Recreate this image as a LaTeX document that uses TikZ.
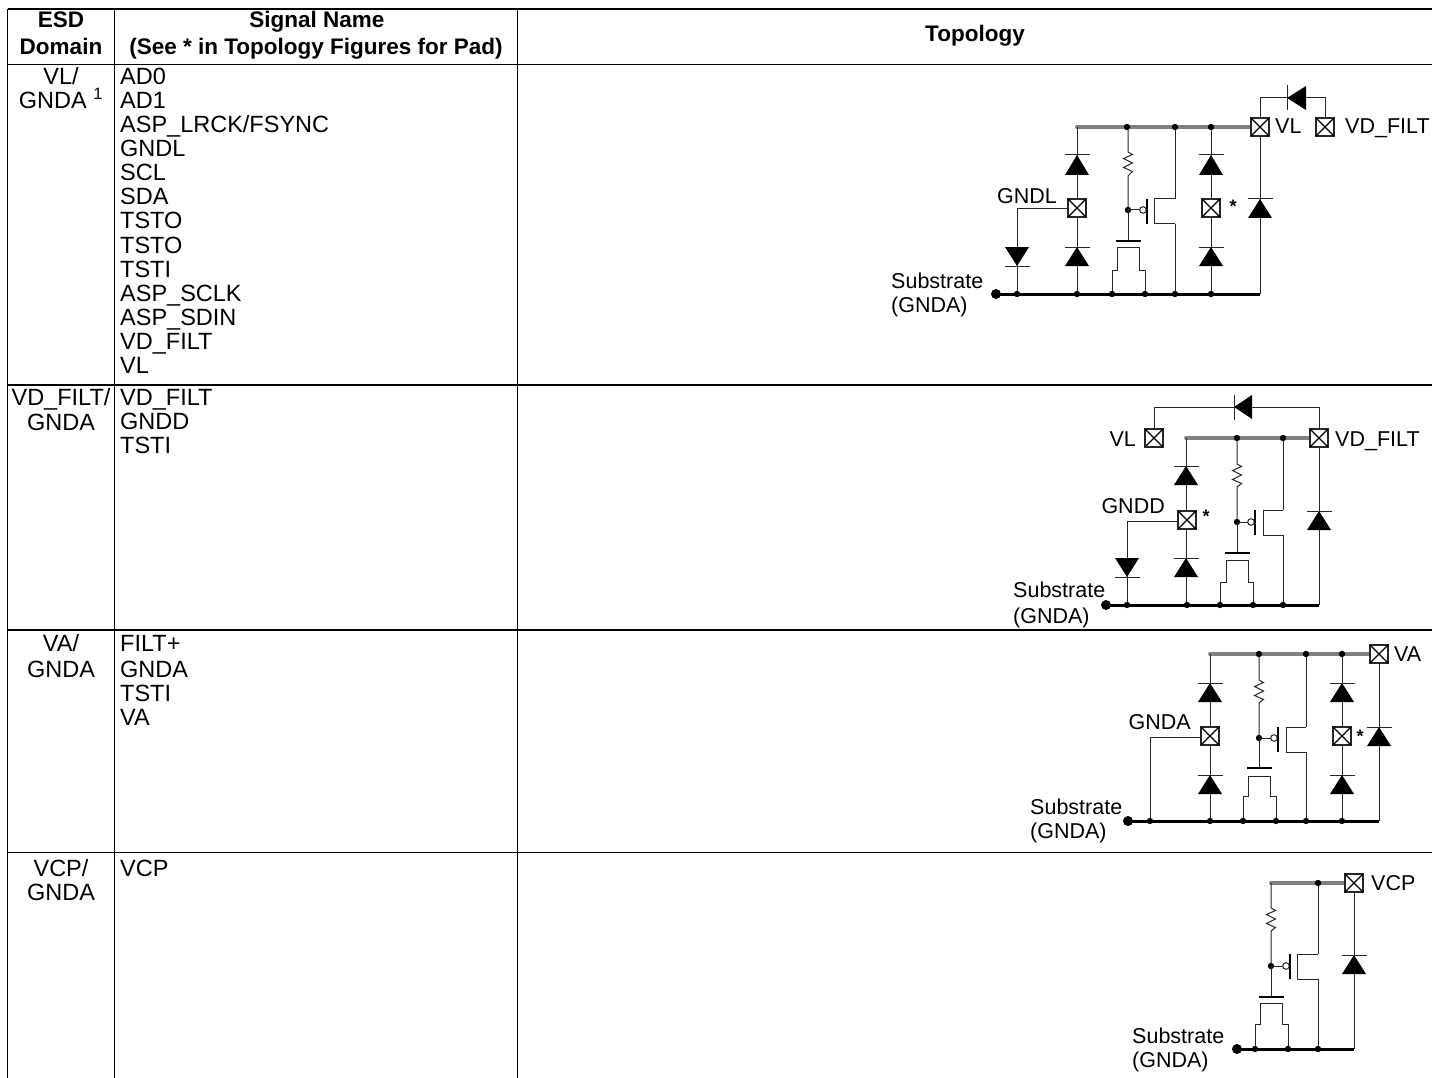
\documentclass[tikz,border=0pt]{standalone}
\usepackage{fontspec}
\setmainfont{Liberation Sans}
\tikzset{
  wire/.style={line width=1pt,black!85},
  railg/.style={line width=3.8pt,black!50,line cap=round},
  busb/.style={line width=3pt,black},
  rule/.style={line width=1.6pt,black},
  rulethick/.style={line width=2.2pt,black},
  padbox/.style={line width=2pt,draw=black!85,fill=white},
  bodytext/.style={inner sep=0pt,anchor=base west,font=\fontsize{23.5}{24}\selectfont},
  midtext/.style={inner sep=0pt,anchor=base,font=\fontsize{23.5}{24}\selectfont},
  headtext/.style={inner sep=0pt,anchor=base,font=\fontsize{22.5}{24}\selectfont\bfseries},
  lab/.style={inner sep=0pt,anchor=base west,font=\fontsize{21.5}{24}\selectfont},
  labr/.style={inner sep=0pt,anchor=base east,font=\fontsize{21.5}{24}\selectfont},
  star/.style={inner sep=0pt,anchor=center,font=\fontsize{18}{20}\selectfont\bfseries}
}
% diode pointing up: x, bar y, base y
\newcommand{\dioUp}[3]{%
  \fill[black] (#1,#2) -- (#1+12,#3) -- (#1-12,#3) -- cycle;
  \draw[wire] (#1-12.5,#2) -- (#1+12.5,#2);}
% diode pointing down: x, base y, bar y
\newcommand{\dioDown}[3]{%
  \fill[black] (#1,#3) -- (#1+12,#2) -- (#1-12,#2) -- cycle;
  \draw[wire] (#1-12.5,#3) -- (#1+12.5,#3);}
% diode pointing left: bar x, base x, y
\newcommand{\dioLeft}[3]{%
  \fill[black] (#1,#3) -- (#2,#3-12) -- (#2,#3+12) -- cycle;
  \draw[wire] (#1,#3-12.5) -- (#1,#3+12.5);}
\newcommand{\pad}[2]{%
  \draw[padbox] (#1-9,#2-9) rectangle (#1+9,#2+9);
  \draw[line width=1.2pt,black] (#1-9,#2-9) -- (#1+9,#2+9) (#1-9,#2+9) -- (#1+9,#2-9);}
\newcommand{\jdot}[2]{\fill[black] (#1,#2) circle (3.2);}
\newcommand{\bigdot}[2]{\fill[black] (#1,#2) circle (5);}
% resistor branch: x, rail y, zig top, zig bottom, dot y
\newcommand{\resis}[5]{%
  \draw[wire] (#1,#2) -- (#1,#3) -- (#1+4.5,#3+2.5) -- (#1-4.5,#3+6.5) -- (#1+4.5,#3+11) -- (#1-4.5,#3+15.5) -- (#1+4.5,#3+19.5) -- (#1,#4) -- (#1,#5);
  \jdot{#1}{#5}}
% pmos: wire x, gate y, bar x, bar y1, bar y2, chan x, ch y1, ch y2, drain x, rail y, bus y
\newcommand{\pmosT}[9]{%
  \draw[wire] (#1,#2) -- (#3-7,#2);
  \draw[wire,fill=white] (#3-4,#2) circle (3.3);
  \draw[line width=1.9pt,black] (#3,#4) -- (#3,#5);
  \draw[wire] (#7,#4) -- (#6,#4) -- (#6,#5) -- (#7,#5);
  \draw[wire] (#7,#8) -- (#7,#4) (#7,#5) -- (#7,#9);}
% nmos: x, dot y, bar y, chan y, step y, out L, out R, bus y
\newcommand{\nmosT}[8]{%
  \draw[wire] (#1,#2) -- (#1,#3);
  \draw[line width=1.9pt,black] (#1-12.5,#3) -- (#1+12.5,#3);
  \draw[wire] (#6,#8) -- (#6,#5) -- (#1-11,#5) -- (#1-11,#4) -- (#1+11,#4) -- (#1+11,#5) -- (#7,#5) -- (#7,#8);}
\begin{document}
\begin{tikzpicture}[x=1pt,y=-1pt]
\useasboundingbox (0,0) rectangle (1432,1078);
\clip (0,0) rectangle (1432,1078);
\fill[white] (0,0) rectangle (1432,1078);
% table
\draw[rulethick] (7.5,9) -- (1432,9);
\draw[rule] (7.5,9) -- (7.5,1078) (114.5,9) -- (114.5,1078) (517.5,9) -- (517.5,1078);
\draw[rule] (7.5,64.5) -- (1432,64.5) (7.5,385) -- (1432,385) (7.5,630) -- (1432,630) (7.5,852.5) -- (1432,852.5);
% headers
\node[headtext] (h1) at (61,28) {ESD};
\node[headtext] (h2) at (61,55) {Domain};
\node[headtext] (h3) at (317,27.5) {Signal Name};
\node[headtext] (h4) at (316,55) {(See * in Topology Figures for Pad)};
\node[headtext] (h5) at (975,42) {Topology};
% domain column
\node[midtext] (d1a) at (61,85) {VL/};
\node[midtext] (d1b) at (61,109) {GNDA \textsuperscript{1}};
\node[midtext] (d2a) at (61,405) {VD\_FILT/};
\node[midtext] (d2b) at (61,430) {GNDA};
\node[midtext] (d3a) at (61,651) {VA/};
\node[midtext] (d3b) at (61,677) {GNDA};
\node[midtext] (d4a) at (61,876) {VCP/};
\node[midtext] (d4b) at (61,900) {GNDA};
% signals row 1
\node[bodytext] (s01) at (120,85) {AD0};
\node[bodytext] (s02) at (120,109) {AD1};
\node[bodytext] (s03) at (120,133) {ASP\_LRCK/FSYNC};
\node[bodytext] (s04) at (120,157) {GNDL};
\node[bodytext] (s05) at (120,181) {SCL};
\node[bodytext] (s06) at (120,205) {SDA};
\node[bodytext] (s07) at (120,229) {TSTO};
\node[bodytext] (s08) at (120,253) {TSTO};
\node[bodytext] (s09) at (120,277) {TSTI};
\node[bodytext] (s10) at (120,301) {ASP\_SCLK};
\node[bodytext] (s11) at (120,325) {ASP\_SDIN};
\node[bodytext] (s12) at (120,349) {VD\_FILT};
\node[bodytext] (s13) at (120,373) {VL};
% row 2
\node[bodytext] (s21) at (120,405) {VD\_FILT};
\node[bodytext] (s22) at (120,429) {GNDD};
\node[bodytext] (s23) at (120,453) {TSTI};
% row 3
\node[bodytext] (s31) at (120,651) {FILT+};
\node[bodytext] (s32) at (120,677) {GNDA};
\node[bodytext] (s33) at (120,701) {TSTI};
\node[bodytext] (s34) at (120,725) {VA};
% row 4
\node[bodytext] (s41) at (120,876) {VCP};

% ---------- circuit 1
\draw[railg] (1077,127) -- (1250,127);
\draw[busb] (996,294) -- (1260,294);
\draw[wire] (1077,127) -- (1077,294);
\draw[wire] (1211,127) -- (1211,294);
\draw[wire] (1260,127) -- (1260,294);
\draw[wire] (1260,127) -- (1260,98) -- (1325,98) -- (1325,127);
\draw[wire] (1077,209) -- (1017,209) -- (1017,294);
\dioUp{1077}{155}{175}\dioUp{1077}{247}{266}
\dioUp{1211}{155}{175}\dioUp{1211}{247}{266}
\dioUp{1260}{199}{218}
\dioDown{1017}{247}{266}
\dioLeft{1287}{1306}{98}
\resis{1128}{127}{152}{176}{210}
\pmosT{1128}{210}{1147}{199}{224}{1154}{1175}{127}{294}
\nmosT{1128}{210}{241}{247}{270}{1112}{1145}{294}
\pad{1077}{208}\pad{1211}{208}\pad{1260}{127}\pad{1325}{127}
\foreach \px in {1127,1175,1211}{\jdot{\px}{127}}
\foreach \px in {1017,1077,1112,1145,1175,1211}{\jdot{\px}{294}}
\bigdot{996}{294}
\node[lab] (c1vl) at (1275,134) {VL};
\node[lab] (c1vd) at (1345,134) {VD\_FILT};
\node[labr] (c1gn) at (1057,204) {GNDL};
\node[star] (c1st) at (1233,206) {*};
\node[lab] (c1su) at (891,288) {Substrate};
\node[lab] (c1gd) at (891,312) {(GNDA)};

% ---------- circuit 2
\draw[railg] (1186,438) -- (1310,438);
\draw[busb] (1106,605) -- (1319,605);
\draw[wire] (1186,438) -- (1186,605);
\draw[wire] (1319,438) -- (1319,605);
\draw[wire] (1154,438) -- (1154,407) -- (1319,407) -- (1319,438);
\draw[wire] (1186,521) -- (1127,521) -- (1127,605);
\dioUp{1186}{466}{485}\dioUp{1186}{558}{577}
\dioUp{1319}{511}{530}
\dioDown{1127}{558}{577}
\dioLeft{1234}{1252}{407}
\resis{1237}{438}{464}{487}{522}
\pmosT{1237}{522}{1255}{510}{535}{1263}{1283}{438}{605}
\nmosT{1237}{522}{553}{560}{582}{1220}{1253}{605}
\pad{1187}{520}\pad{1154}{438}\pad{1319}{438}
\foreach \px in {1237,1283}{\jdot{\px}{438}}
\foreach \px in {1127,1187,1220,1253,1283}{\jdot{\px}{605}}
\bigdot{1106}{605}
\node[labr] (c2vl) at (1136,446) {VL};
\node[lab] (c2vd) at (1335,446) {VD\_FILT};
\node[labr] (c2gn) at (1165,513) {GNDD};
\node[star] (c2st) at (1206,516) {*};
\node[lab] (c2su) at (1013,597) {Substrate};
\node[lab] (c2gd) at (1013,623) {(GNDA)};

% ---------- circuit 3
\draw[railg] (1210,654) -- (1370,654);
\draw[busb] (1128,821) -- (1379,821);
\draw[wire] (1210,654) -- (1210,821);
\draw[wire] (1342,654) -- (1342,821);
\draw[wire] (1379,654) -- (1379,821);
\draw[wire] (1210,737) -- (1150,737) -- (1150,821);
\dioUp{1210}{683}{702}\dioUp{1210}{775}{794}
\dioUp{1342}{683}{702}\dioUp{1342}{775}{794}
\dioUp{1379}{727}{746}
\resis{1259}{654}{680}{703}{738}
\pmosT{1259}{738}{1278}{727}{752}{1286}{1306}{654}{821}
\nmosT{1259}{738}{768}{776}{796}{1243}{1276}{821}
\pad{1210}{736}\pad{1342}{736}\pad{1379}{654}
\foreach \px in {1259,1306,1342}{\jdot{\px}{654}}
\foreach \px in {1150,1210,1243,1276,1306,1342}{\jdot{\px}{821}}
\bigdot{1128}{821}
\node[lab] (c3va) at (1394,661) {VA};
\node[labr] (c3gn) at (1191,729) {GNDA};
\node[star] (c3st) at (1360,736) {*};
\node[lab] (c3su) at (1030,814) {Substrate};
\node[lab] (c3gd) at (1030,838) {(GNDA)};

% ---------- circuit 4
\draw[railg] (1271,883) -- (1345,883);
\draw[busb] (1237,1049) -- (1354,1049);
\draw[wire] (1354,883) -- (1354,1049);
\dioUp{1354}{955}{974}
\resis{1271}{883}{908}{931}{966}
\pmosT{1271}{966}{1290}{954}{979}{1297}{1318}{883}{1049}
\nmosT{1271}{966}{997}{1003}{1024}{1255}{1288}{1049}
\pad{1354}{883}
\jdot{1318}{883}
\foreach \px in {1255,1288,1318}{\jdot{\px}{1049}}
\bigdot{1237}{1049}
\node[lab] (c4vc) at (1371,890) {VCP};
\node[lab] (c4su) at (1132,1043) {Substrate};
\node[lab] (c4gd) at (1132,1067) {(GNDA)};
\end{tikzpicture}
\end{document}
